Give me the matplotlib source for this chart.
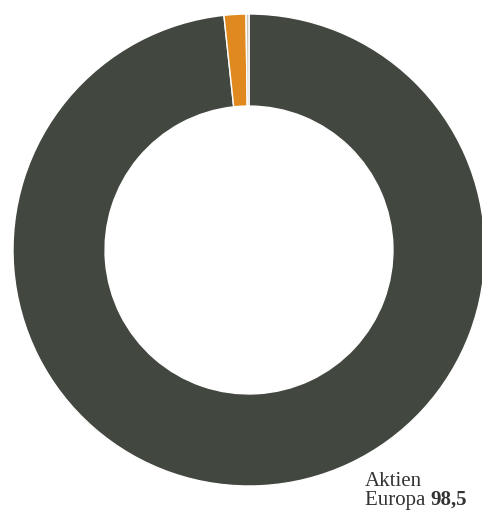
import matplotlib
matplotlib.use("Agg")
import matplotlib.pyplot as plt

labels = ["Aktien Europa", "Sonstige", "Liquidität"]
values = [98.5, 1.5, 0.2]
colors = ["#42473f", "#e0891e", "#c9c5b9"]

W, H = 482, 514
cx, cy, r = 249, 250, 236

fig = plt.figure(figsize=(W / 100, H / 100), dpi=100)
ax = fig.add_axes([0, 0, 1, 1])
ax.pie(values, colors=colors, startangle=90, counterclock=False, radius=1,
       wedgeprops=dict(width=0.39, edgecolor="white", linewidth=1.0))
ax.set_xlim(-cx / r, (W - cx) / r)
ax.set_ylim(-(H - cy) / r, cy / r)
ax.set_aspect("auto")
ax.axis("off")

font = dict(family="Liberation Serif", size=15, color="#333333")
x0, y0 = 365 / W, 1 - 486 / H
fig.text(x0, y0, "Aktien", va="baseline", **font)
t = fig.text(x0, y0 - 19 / H, "Europa ", va="baseline", **font)
fig.canvas.draw()
bb = t.get_window_extent()
fig.text(bb.x1 / W, y0 - 19 / H, f"{values[0]:.1f}".replace(".", ","),
         va="baseline", fontweight="bold", **font)

fig.savefig("out.png", dpi=100)
